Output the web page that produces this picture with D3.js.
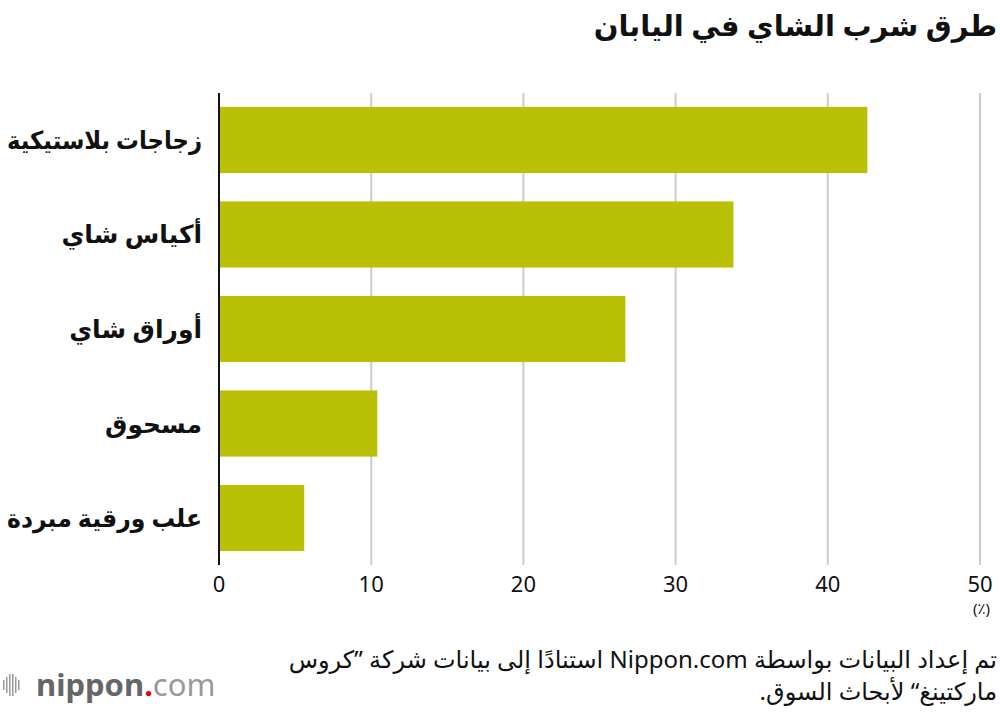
<!DOCTYPE html>
<html><head><meta charset="utf-8">
<script src="https://cdn.jsdelivr.net/npm/d3@7"></script>
<style>body{margin:0;background:#fff}svg{display:block;font-family:"Noto Sans","DejaVu Sans",sans-serif}</style>
</head><body><svg id="chart" width="1000" height="712"></svg>
<script>
"use strict";

const categories = ["زجاجات بلاستيكية", "أكياس شاي", "أوراق شاي", "مسحوق", "علب ورقية مبردة"];
const values = [42.6, 33.8, 26.7, 10.4, 5.6];
const ticks = [0, 10, 20, 30, 40, 50];

const svg = d3.select("#chart");

var x = d3.scaleLinear().domain([0, 50]).range([219, 980]);
var y = d3.scaleBand().domain(categories).range([88, 570]).paddingInner(0.3).paddingOuter(0.2);

// title (rtl: "start" anchors on the right)
svg.append("text").attr("x", 997).attr("y", 36).attr("text-anchor", "start")
    .attr("font-size", 29).attr("font-weight", "bold").attr("fill", "#111")
    .attr("direction", "rtl").text("طرق شرب الشاي في اليابان");

// grid
svg.append("g").selectAll("line").data(ticks.slice(1)).join("line")
    .attr("x1", d => x(d)).attr("x2", d => x(d))
    .attr("y1", 93).attr("y2", 565)
    .attr("stroke", "#cccccc").attr("stroke-width", 2);

// bars
svg.append("g").selectAll("rect").data(values).join("rect")
    .attr("x", x(0)).attr("y", (d, i) => y(categories[i]))
    .attr("width", d => x(d) - x(0)).attr("height", y.bandwidth())
    .attr("fill", "#b9c005");

// zero axis
svg.append("line").attr("x1", x(0)).attr("x2", x(0)).attr("y1", 93).attr("y2", 565)
    .attr("stroke", "#111").attr("stroke-width", 2);

// tick labels
svg.append("g").selectAll("text").data(ticks).join("text")
    .attr("x", d => x(d)).attr("y", 592).attr("text-anchor", "middle")
    .attr("font-size", 22).attr("fill", "#111").text(d => d);
svg.append("text").attr("x", 990).attr("y", 614).attr("text-anchor", "end")
    .attr("font-size", 15).attr("fill", "#111").text("(٪)");

// category labels, squeezed if wider than the space left of the axis
svg.append("g").selectAll("text").data(categories).join("text")
    .attr("x", 202).attr("y", d => y(d) + y.bandwidth() / 2 + 9)
    .attr("text-anchor", "start").attr("direction", "rtl")
    .attr("font-size", 25).attr("font-weight", "bold").attr("fill", "#111")
    .text(d => d)
    .each(function () {
        if (this.getComputedTextLength() > 195) {
            d3.select(this).attr("textLength", 195).attr("lengthAdjust", "spacingAndGlyphs");
        }
    });

// source note
svg.append("text").attr("x", 997).attr("y", 668).attr("text-anchor", "start").attr("direction", "rtl")
    .attr("font-size", 24).attr("fill", "#111")
    .text("تم إعداد البيانات بواسطة Nippon.com استنادًا إلى بيانات شركة ”كروس");
svg.append("text").attr("x", 997).attr("y", 700).attr("text-anchor", "start").attr("direction", "rtl")
    .attr("font-size", 24).attr("fill", "#111")
    .text("ماركتينغ“ لأبحاث السوق.");

// logo
const bars = [3, 6, 9, 12, 15, 18];
const barH = [10, 16, 22, 22, 16, 10];
svg.append("g").selectAll("rect").data(bars).join("rect")
    .attr("x", d => d).attr("y", (d, i) => 685 - barH[i] / 2)
    .attr("width", 1.5).attr("height", (d, i) => barH[i]).attr("fill", "#999");
const logo = svg.append("text").attr("x", 36).attr("y", 696).attr("font-size", 31);
logo.append("tspan").attr("fill", "#666").attr("font-weight", "bold").text("nippon");
logo.append("tspan").attr("fill", "#e60012").attr("font-weight", "bold").text(".");
logo.append("tspan").attr("fill", "#999").text("com");
</script></body></html>
